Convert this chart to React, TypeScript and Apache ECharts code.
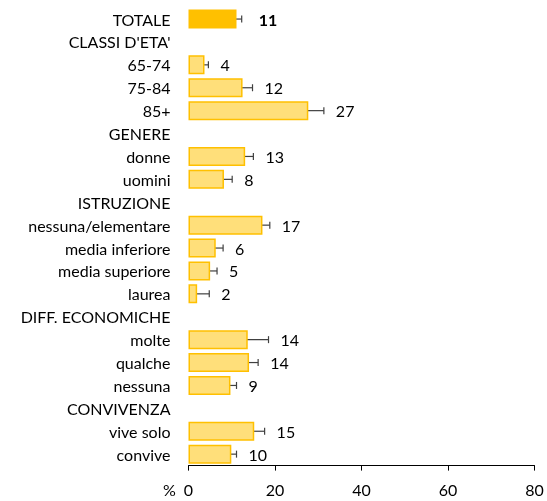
import React, { useEffect, useRef } from "react";
import * as echarts from "echarts";

const categories = [
  "TOTALE",
  "CLASSI D'ETA'",
  "65-74",
  "75-84",
  "85+",
  "GENERE",
  "donne",
  "uomini",
  "ISTRUZIONE",
  "nessuna/elementare",
  "media inferiore",
  "media superiore",
  "laurea",
  "DIFF. ECONOMICHE",
  "molte",
  "qualche",
  "nessuna",
  "CONVIVENZA",
  "vive solo",
  "convive",
];

const values: (number | null)[] = [
  11.1, null, 3.7, 12.5, 27.7, null, 13.1, 8.2, null, 17.1, 6.3, 5.0, 2.0, null, 13.7, 14.0, 9.7, null, 15.2, 9.9,
];
const lowerCI: (number | null)[] = [
  10.0, null, 2.9, 10.6, 24.2, null, 11.3, 6.8, null, 15.4, 5.1, 3.9, 0.7, null, 10.1, 12.1, 8.1, null, 12.8, 8.8,
];
const upperCI: (number | null)[] = [
  12.3, null, 4.6, 14.8, 31.3, null, 15.0, 10.1, null, 18.8, 8.0, 6.6, 4.8, null, 18.5, 16.1, 11.1, null, 17.6, 11.1,
];
const valueLabels: (string | null)[] = [
  "11", null, "4", "12", "27", null, "13", "8", null, "17", "6", "5", "2", null, "14", "14", "9", null, "15", "10",
];

const xTicks = { min: 0, max: 80, interval: 20 };
const FONT = "Lato";

export default function App() {
  const ref = useRef<HTMLDivElement>(null);
  useEffect(() => {
    if (!ref.current) return;
    const chart = echarts.init(ref.current, undefined, { renderer: "svg" });
    const barData = values.map((v, i) =>
      v == null
        ? null
        : i === 0
        ? { value: v, itemStyle: { color: "#FFC000", borderColor: "#FFC000" } }
        : { value: v }
    );
    const errData = values.map((v, i) => [i, lowerCI[i], upperCI[i], valueLabels[i]]);
    chart.setOption({
      animation: false,
      grid: { left: 188.5, right: 12.5, top: 7.6, bottom: 35.4, containLabel: false },
      xAxis: {
        type: "value",
        min: xTicks.min,
        max: xTicks.max,
        interval: xTicks.interval,
        splitLine: { show: false },
        axisLine: { show: true, lineStyle: { color: "#000", width: 1 } },
        axisTick: { show: true, length: 5, lineStyle: { color: "#000" } },
        axisLabel: { color: "#000", fontSize: 16, fontFamily: FONT, margin: 16 },
      },
      yAxis: {
        type: "category",
        data: categories,
        inverse: true,
        axisLine: { show: false },
        axisTick: { show: false },
        axisLabel: { color: "#000", fontSize: 16, fontFamily: FONT, margin: 18, interval: 0 },
      },
      graphic: [
        {
          type: "text",
          left: 163,
          top: 481,
          style: { text: "%", fontSize: 16, fontFamily: FONT, fill: "#000" },
        },
      ],
      series: [
        {
          type: "bar",
          data: barData,
          barWidth: 19,
          itemStyle: { color: "#FFDF7A", borderColor: "#FFC000", borderWidth: 1.5 },
        },
        {
          type: "custom",
          data: errData,
          encode: { y: 0, x: [1, 2] },
          renderItem: (params: any, api: any) => {
            const lo = api.value(1);
            const hi = api.value(2);
            if (lo == null || isNaN(lo)) return null;
            const i = api.value(0);
            const p1 = api.coord([lo, i]);
            const p2 = api.coord([hi, i]);
            const cap = 3.5;
            const lbl = valueLabels[params.dataIndex];
            const style = { stroke: "#404040", lineWidth: 1.2 };
            return {
              type: "group",
              children: [
                { type: "line", shape: { x1: p1[0], y1: p1[1], x2: p2[0], y2: p2[1] }, style },
                { type: "line", shape: { x1: p1[0], y1: p1[1] - cap, x2: p1[0], y2: p1[1] + cap }, style },
                { type: "line", shape: { x1: p2[0], y1: p2[1] - cap, x2: p2[0], y2: p2[1] + cap }, style },
                {
                  type: "text",
                  x: p2[0] + (params.dataIndex === 0 ? 17 : 12),
                  y: p2[1],
                  style: {
                    text: lbl,
                    fontSize: 16,
                    fontFamily: FONT,
                    fontWeight: params.dataIndex === 0 ? "bold" : "normal",
                    fill: "#000",
                    verticalAlign: "middle",
                    align: "left",
                  },
                },
              ],
            };
          },
        },
      ],
    });
    return () => chart.dispose();
  }, []);
  return <div ref={ref} style={{ position: "fixed", left: 0, top: 0, width: 547, height: 501 }} />;
}
